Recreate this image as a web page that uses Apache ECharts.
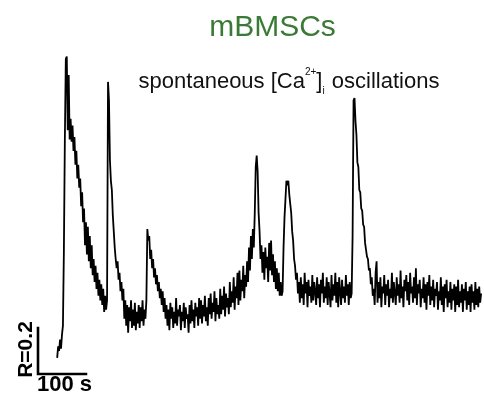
<!DOCTYPE html>
<html>
<head>
<meta charset="utf-8">
<script src="https://cdn.jsdelivr.net/npm/echarts@6/dist/echarts.min.js"></script>
<style>
html,body{margin:0;padding:0;background:#fff;}
#chart{width:484px;height:396px;}
</style>
</head>
<body>
<div id="chart"></div>
<script>
// Recording: fluorescence ratio R sampled every 2 s, starting at t = 40 s
var sampleStart = 40;   // s
var sampleStep = 2;     // s
var ratio = [
 // start + first large transient
 0.07,0.12,0.10,0.15,0.11,0.17,0.21,
 0.54,1.02,1.37,1.38,1.06,1.30,1.02,1.11,1.01,1.08,0.97,1.03,0.91,0.97,
 0.85,0.91,0.81,0.85,0.73,0.79,0.66,0.72,0.56,0.66,0.52,0.64,0.49,0.60,
 0.46,0.56,0.43,0.50,0.40,0.47,0.37,0.44,0.34,0.41,0.32,0.39,0.30,0.37,
 0.27,0.34,0.28,0.32,
 // second spike
 1.27,1.19,0.93,0.84,0.80,0.69,0.62,0.55,0.50,0.46,0.49,0.41,0.44,0.36,0.40,0.32,0.37,
 // trough
 0.24,0.32,0.21,0.30,0.18,0.29,0.23,0.32,0.20,0.28,0.21,0.31,0.19,0.27,0.22,0.30,
 0.20,0.29,0.23,0.32,0.21,0.28,0.24,0.32,
 // third (small) spike
 0.63,0.58,0.60,0.50,0.54,0.46,0.50,0.42,0.46,0.39,0.43,0.36,0.40,0.33,0.37,0.30,0.36,0.27,0.33,0.24,
 // low baseline
 0.30,0.21,0.28,0.19,0.31,0.24,0.29,0.20,0.27,0.22,0.33,0.21,0.28,0.25,0.30,0.19,0.27,0.23,
 0.31,0.20,0.29,0.24,0.26,0.18,0.30,0.22,0.32,0.23,0.28,0.20,0.31,0.25,0.29,0.21,0.33,0.24,
 // slow rise
 0.32,0.22,0.30,0.25,0.34,0.23,0.29,0.21,0.33,0.26,
 0.35,0.24,0.31,0.27,0.36,0.23,0.33,0.26,0.30,0.24,
 0.37,0.26,0.34,0.28,0.38,0.25,0.35,0.29,0.33,0.26,
 0.40,0.29,0.36,0.31,0.42,0.28,0.38,0.33,0.44,0.30,
 0.45,0.32,0.41,0.36,0.47,0.33,0.43,0.38,0.49,
 // fourth spike
 0.40,0.55,0.45,0.60,0.50,0.63,0.55,0.70,0.90,0.95,0.88,0.70,0.62,0.50,
 0.56,0.44,0.53,0.41,0.55,0.46,0.51,0.40,0.57,0.45,0.58,0.43,0.52,0.40,0.49,0.37,
 0.46,0.36,0.44,0.34,0.40,0.34,
 // fifth (broad) spike
 0.36,0.55,0.68,0.76,0.84,0.82,0.84,0.78,0.74,0.70,0.62,0.58,0.50,0.47,0.41,0.44,0.35,0.40,
 // baseline
 0.31,0.42,0.33,0.39,0.30,0.44,0.35,0.40,0.29,0.41,0.34,0.38,0.31,0.43,0.32,0.40,0.36,0.30,
 0.42,0.33,0.39,0.29,0.41,0.35,0.44,0.31,0.38,0.33,0.42,0.30,0.40,0.35,0.29,0.43,0.32,0.39,
 0.34,0.44,0.31,0.40,0.29,0.42,0.36,0.30,0.41,0.33,0.38,0.31,0.43,0.34,0.39,0.30,0.40,0.33,
 // sixth spike
 0.35,0.60,1.19,1.20,1.10,1.04,0.92,0.90,0.80,0.79,0.72,0.71,0.65,0.64,0.57,0.57,0.51,0.50,
 0.45,0.46,0.39,0.42,0.34,0.37,
 // final baseline
 0.30,0.44,0.49,0.31,0.40,0.33,0.42,0.29,0.38,0.35,
 0.43,0.30,0.39,0.34,0.41,0.29,0.37,0.33,0.44,0.31,
 0.40,0.35,0.30,0.42,0.34,0.39,0.31,0.45,0.33,0.38,
 0.29,0.41,0.36,0.43,0.32,0.40,0.30,0.44,0.35,0.38,
 0.31,0.42,0.33,0.46,0.30,0.39,0.35,0.41,0.29,0.37,
 0.33,0.42,0.31,0.39,0.28,0.40,0.34,0.43,0.30,0.38,
 0.32,0.41,0.29,0.37,0.34,0.40,0.28,0.36,0.32,0.42,
 0.30,0.38,0.27,0.39,0.33,0.41,0.29,0.36,0.31,0.40,
 0.28,0.37,0.32,0.39,0.27,0.38,0.30,0.41,0.29,0.36,
 0.31,0.39,0.27,0.37,0.32,0.40,0.28,0.36,0.30,0.38,
 0.27,0.39,0.31,0.36,0.28,0.40,0.30,0.37,0.29,0.38,
 0.31,0.35
];
// Scale bar: 100 s horizontally, R = 0.2 vertically
var scaleBarTime = 100;
var scaleBarRatio = 0.2;
var scaleBarLabels = ['R=0.2', '100 s'];
var titleText = 'mBMSCs';

var trace = ratio.map(function (v, i) { return [sampleStart + i * sampleStep, v]; });
var scaleBar = [[0, scaleBarRatio], [0, 0], [scaleBarTime, 0]];

var chart = echarts.init(document.getElementById('chart'), null, {renderer: 'canvas'});
chart.setOption({
  animation: false,
  backgroundColor: '#ffffff',
  title: [{
    text: titleText,
    left: 267.5, top: 8, textAlign: 'center',
    textStyle: {fontFamily: 'Liberation Sans', fontSize: 30, fontWeight: 'normal', color: '#3b7a36'}
  }, {
    text: '{n|spontaneous [Ca}{sup|2+}{n|]}{sub|i}{n| oscillations}',
    left: 284, top: 60, textAlign: 'center',
    textStyle: {
      fontFamily: 'Liberation Sans', fontSize: 22, fontWeight: 'normal', color: '#111',
      rich: {
        n: {fontFamily: 'Liberation Sans', fontSize: 22, fontWeight: 'normal', color: '#111', lineHeight: 28, verticalAlign: 'bottom'},
        sup: {fontFamily: 'Liberation Sans', fontSize: 10, fontWeight: 'normal', color: '#111', lineHeight: 28, verticalAlign: 'top', padding: [2, 0, 0, 0]},
        sub: {fontFamily: 'Liberation Sans', fontSize: 10, fontWeight: 'normal', color: '#111', lineHeight: 28, verticalAlign: 'bottom', padding: [0, 1, -3, 0]}
      }
    }
  }],
  grid: {left: 38, top: 52, width: 446.4, height: 322, containLabel: false},
  xAxis: {type: 'value', min: 0, max: 930, show: false},
  yAxis: {type: 'value', min: 0, max: 1.4, show: false},
  series: [{
    type: 'line', data: trace, symbol: 'none', clip: false,
    lineStyle: {color: '#000', width: 1.8}
  }, {
    type: 'line', data: scaleBar, symbol: 'none', clip: false,
    lineStyle: {color: '#000', width: 2.6, cap: 'square', join: 'miter'}
  }],
  graphic: [{
    type: 'text', x: 26.5, y: 349.5, rotation: Math.PI / 2,
    style: {text: scaleBarLabels[0], fontFamily: 'Liberation Sans', fontWeight: 'bold', fontSize: 21, fill: '#000', align: 'center', verticalAlign: 'middle'}
  }, {
    type: 'text', x: 64.5, y: 385,
    style: {text: scaleBarLabels[1], fontFamily: 'Liberation Sans', fontWeight: 'bold', fontSize: 22, fill: '#000', align: 'center', verticalAlign: 'middle'}
  }]
});
</script>
</body>
</html>
